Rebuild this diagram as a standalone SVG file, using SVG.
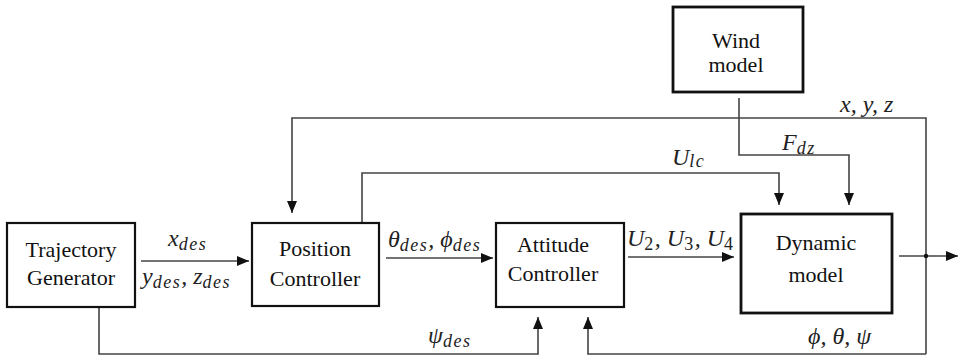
<svg xmlns="http://www.w3.org/2000/svg" width="959" height="356" viewBox="0 0 959 356" font-family="Liberation Serif, DejaVu Serif, serif">
<style>
.box{fill:#fff;stroke:#111;stroke-width:2.2}
.thick{stroke-width:2.8}
.lbl{font-size:22px;fill:#111;text-anchor:middle}
.math{font-size:24px;font-style:italic;fill:#222}
.sub{font-size:18px;letter-spacing:1.5px}
.wire{fill:none;stroke:#444;stroke-width:1.6}
</style>
<defs>
<marker id="ah" viewBox="0 0 12 10" refX="12" refY="5" markerWidth="12" markerHeight="10" markerUnits="userSpaceOnUse" orient="auto">
<path d="M0,0 L12,5 L0,10 Z" fill="#111"/>
</marker>
</defs>
<rect width="959" height="356" fill="#fff"/>
<g id="connectors">
<line class="wire" x1="141" y1="261" x2="249" y2="261" marker-end="url(#ah)"/>
<line class="wire" x1="386" y1="258" x2="493" y2="258" marker-end="url(#ah)"/>
<line class="wire" x1="628" y1="257" x2="734" y2="257" marker-end="url(#ah)"/>
<path class="wire" d="M99,307 V354 H538 V317" marker-end="url(#ah)"/>
<path class="wire" d="M926,354 H588 V317" marker-end="url(#ah)"/>
<path class="wire" d="M926,354 V118 H292 V213" marker-end="url(#ah)"/>
<path class="wire" d="M362,223 V173 H779 V205" marker-end="url(#ah)"/>
<path class="wire" d="M739,98 V155 H849 V205" marker-end="url(#ah)"/>
<line class="wire" x1="899" y1="256" x2="958" y2="256" marker-end="url(#ah)"/>
<circle cx="926" cy="256" r="2.2" fill="#111"/>
<text class="math" x="168" y="246">x<tspan class="sub" dy="4">des</tspan></text>
<text class="math" x="142" y="284">y<tspan class="sub" dy="4">des</tspan><tspan dy="-4">,  z</tspan><tspan class="sub" dy="4">des</tspan></text>
<text class="math" x="388" y="247">θ<tspan class="sub" dy="4">des</tspan><tspan dy="-4">,  ϕ</tspan><tspan class="sub" dy="4">des</tspan></text>
<text class="math" x="627" y="246">U<tspan class="sub" dy="4" font-style="normal">2</tspan><tspan dy="-4">, U</tspan><tspan class="sub" dy="4" font-style="normal">3</tspan><tspan dy="-4">, U</tspan><tspan class="sub" dy="4" font-style="normal">4</tspan></text>
<text class="math" x="840" y="112">x, y, z</text>
<text class="math" x="672" y="165">U<tspan class="sub" dy="2">lc</tspan></text>
<text class="math" x="782" y="150">F<tspan class="sub" dy="4">dz</tspan></text>
<text class="math" x="428" y="343">ψ<tspan class="sub" dy="4">des</tspan></text>
<text class="math" x="808" y="344">ϕ, θ, ψ</text>
</g>
<g id="trajectory">
<rect class="box" x="7" y="223" width="128" height="84"/>
<text class="lbl" x="71" y="257">Trajectory</text>
<text class="lbl" x="71" y="285">Generator</text>
</g>
<g id="position">
<rect class="box" x="252" y="223" width="127" height="83"/>
<text class="lbl" x="315" y="256">Position</text>
<text class="lbl" x="315" y="286">Controller</text>
</g>
<g id="attitude">
<rect class="box" x="496" y="223" width="128" height="84"/>
<text class="lbl" x="553" y="252">Attitude</text>
<text class="lbl" x="553" y="281">Controller</text>
</g>
<g id="dynamic">
<rect class="box thick" x="741" y="214" width="151" height="99"/>
<text class="lbl" x="816" y="250">Dynamic</text>
<text class="lbl" x="816" y="282">model</text>
</g>
<g id="wind">
<rect class="box thick" x="673" y="7" width="130" height="85"/>
<text class="lbl" x="736" y="48">Wind</text>
<text class="lbl" x="736" y="72">model</text>
</g>
</svg>
